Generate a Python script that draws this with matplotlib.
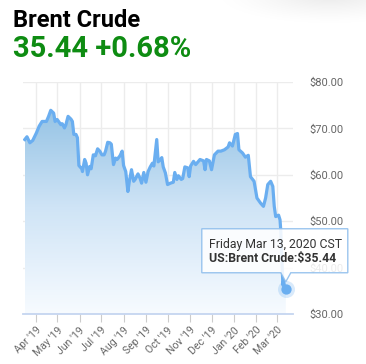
import matplotlib
matplotlib.use('Agg')
import matplotlib.pyplot as plt
import matplotlib.dates as mdates
import matplotlib.transforms as mtransforms
from matplotlib.colors import LinearSegmentedColormap
from matplotlib.patches import Polygon
import numpy as np
import pandas as pd

plt.rcParams['font.family'] = ['Roboto', 'DejaVu Sans']

# Brent crude closing prices
dates = [
    '2019-03-17', '2019-03-20', '2019-03-24', '2019-03-28', '2019-04-02', '2019-04-06',
    '2019-04-10', '2019-04-16', '2019-04-19', '2019-04-22', '2019-04-26', '2019-04-28',
    '2019-05-01', '2019-05-06', '2019-05-08', '2019-05-11', '2019-05-13', '2019-05-16',
    '2019-05-20', '2019-05-22', '2019-05-24', '2019-05-27', '2019-05-29', '2019-05-31',
    '2019-06-04', '2019-06-05', '2019-06-08', '2019-06-10', '2019-06-12', '2019-06-15',
    '2019-06-17', '2019-06-20', '2019-06-23', '2019-06-26', '2019-06-29', '2019-07-02',
    '2019-07-05', '2019-07-07', '2019-07-10', '2019-07-13', '2019-07-15', '2019-07-18',
    '2019-07-21', '2019-07-23', '2019-07-27', '2019-07-30', '2019-08-01', '2019-08-04',
    '2019-08-07', '2019-08-09', '2019-08-12', '2019-08-15', '2019-08-17', '2019-08-21',
    '2019-08-24', '2019-08-26', '2019-08-29', '2019-09-01', '2019-09-04', '2019-09-07',
    '2019-09-10', '2019-09-12', '2019-09-16', '2019-09-18', '2019-09-21', '2019-09-23',
    '2019-09-25', '2019-09-28', '2019-10-01', '2019-10-05', '2019-10-09', '2019-10-11',
    '2019-10-14', '2019-10-16', '2019-10-20', '2019-10-22', '2019-10-25', '2019-10-29',
    '2019-10-31', '2019-11-02', '2019-11-06', '2019-11-09', '2019-11-15', '2019-11-20',
    '2019-11-22', '2019-11-24', '2019-11-28', '2019-12-01', '2019-12-05', '2019-12-10',
    '2019-12-14', '2019-12-19', '2019-12-24', '2019-12-26', '2019-12-30', '2020-01-03',
    '2020-01-06', '2020-01-08', '2020-01-13', '2020-01-17', '2020-01-21', '2020-01-24',
    '2020-01-29', '2020-02-02', '2020-02-07', '2020-02-11', '2020-02-14', '2020-02-17',
    '2020-02-21', '2020-02-24', '2020-02-26', '2020-02-28', '2020-03-03', '2020-03-05',
    '2020-03-06', '2020-03-09', '2020-03-10', '2020-03-11', '2020-03-12', '2020-03-13',
]
prices = [
    67.6, 68.2, 66.9, 67.4, 69.0, 70.5,
    71.5, 71.5, 72.6, 73.9, 73.3, 71.5,
    71.9, 70.8, 71.0, 70.1, 70.8, 72.6,
    72.0, 71.5, 68.7, 68.7, 68.0, 62.0,
    61.3, 60.7, 63.3, 62.5, 60.0, 61.8,
    61.3, 64.3, 64.1, 65.6, 65.1, 64.3,
    64.3, 65.1, 67.0, 66.9, 66.6, 62.2,
    63.6, 63.3, 64.1, 65.1, 62.0, 60.7,
    56.4, 58.6, 61.1, 58.6, 59.0, 60.2,
    59.2, 58.2, 60.5, 58.4, 60.7, 61.7,
    62.5, 61.9, 67.6, 62.8, 63.3, 63.7,
    61.7, 60.4, 57.9, 58.2, 58.4, 60.5,
    59.0, 59.8, 59.0, 59.2, 61.7, 61.5,
    59.6, 61.9, 62.9, 62.2, 63.3, 63.0,
    61.1, 63.3, 63.0, 61.1, 64.3, 65.1,
    65.1, 65.4, 66.0, 66.9, 66.2, 68.7,
    68.9, 65.4, 64.7, 63.8, 64.2, 59.6,
    58.6, 55.0, 53.9, 53.2, 55.0, 57.9,
    58.6, 57.5, 53.2, 51.0, 51.3, 50.3,
    48.1, 36.2, 37.2, 36.0, 35.2, 35.44,
]
month_ticks = ['2019-04-01', '2019-05-01', '2019-06-01', '2019-07-01', '2019-08-01',
               '2019-09-01', '2019-10-01', '2019-11-01', '2019-12-01', '2020-01-01',
               '2020-02-01', '2020-03-01']
month_labels = ["Apr '19", "May '19", "Jun '19", "Jul '19", "Aug '19", "Sep '19",
                "Oct '19", "Nov '19", "Dec '19", "Jan '20", "Feb '20", "Mar '20"]
price_ticks = [30, 40, 50, 60, 70, 80]

x = mdates.date2num(pd.to_datetime(dates))
y = np.array(prices)
xt = mdates.date2num(pd.to_datetime(month_ticks))

fig = plt.figure(figsize=(3.66, 3.64), dpi=100)

# faint drop shadow in the top right corner
bg = fig.add_axes([0, 0, 1, 1], zorder=-5)
bg.axis('off')
gx, gy = np.meshgrid(np.linspace(0, 366, 366), np.linspace(0, 364, 364))
shade = np.clip(1 - np.hypot((gx - 330) / 110, (gy + 5) / 28), 0, 1) ** 1.3
bg.imshow(shade, extent=[0, 366, 364, 0], cmap=LinearSegmentedColormap.from_list(
    'sh', ['#ffffff', '#eaeaea']), vmin=0, vmax=1, aspect='auto')

ax = fig.add_axes([23 / 366, 50 / 364, 270 / 366, 232 / 364])
ax.patch.set_alpha(0)

x0 = x[0] - 0.5
x1 = x[-1] + 10
ax.set_xlim(x0 - 2, x1)
ax.set_ylim(30, 80)

# gradient area under the line
cmap = LinearSegmentedColormap.from_list('fade', ['#f7fbff', '#cfe4f6', '#8fc0e3'])
grad = np.linspace(0, 1, 256).reshape(-1, 1)
area = ax.fill_between(x, y, 30, color='none', lw=0)
im = ax.imshow(grad, extent=[x[0], x[-1], 30, 76], origin='lower', aspect='auto',
               cmap=cmap, zorder=1)
im.set_clip_path(area.get_paths()[0], ax.transData)

ax.plot(x, y, color='#6aaef0', lw=2.3, solid_joinstyle='round', zorder=3)

# grid
for v in price_ticks[1:]:
    ax.axhline(v, color='#ececec', lw=1, zorder=0)
for v in xt:
    ax.axvline(v, color='#ececec', lw=1, zorder=0)

for s in ['top', 'left', 'right']:
    ax.spines[s].set_visible(False)
ax.spines['bottom'].set_color('#c5d5f0')
ax.spines['bottom'].set_linewidth(1.3)

ax.set_xticks(xt)
ax.set_xticklabels(month_labels, rotation=45, ha='right', rotation_mode='anchor',
                   fontsize=7.6, color='#666666')
ax.tick_params(axis='x', length=6, color='#cccccc', pad=2)

ax.yaxis.tick_right()
ax.set_yticks(price_ticks)
ax.set_yticklabels(['$%.2f' % v for v in price_ticks], fontsize=8, color='#666666')
ax.tick_params(axis='y', length=0, pad=12)

# last point marker + tooltip
lx, ly = x[-1], y[-1]
ax.scatter([lx], [ly], s=150, color='#6aaef0', alpha=0.25, lw=0, zorder=5, clip_on=False)
ax.scatter([lx], [ly], s=55, color='#6aaef0', lw=0, zorder=6, clip_on=False)

tr = mtransforms.IdentityTransform() + mtransforms.ScaledTranslation(lx, ly, ax.transData)
tip = Polygon([(-84, 16), (-5, 16), (0, 7), (5, 16), (62, 16), (62, 60), (-84, 60)],
              closed=True, transform=tr, facecolor='white', edgecolor='#8dbdec',
              lw=1.0, alpha=0.88, zorder=7, clip_on=False)
ax.add_patch(tip)
ax.text(-77, 41, 'Friday Mar 13, 2020 CST', transform=tr, fontsize=8.8, color='#333333',
        va='baseline', ha='left', zorder=8)
ax.text(-77, 27, 'US:Brent Crude:$%.2f' % ly, transform=tr, fontsize=8.8, color='#333333',
        fontweight='bold', va='baseline', ha='left', zorder=8)

# header
fig.text(13 / 366, 1 - 27 / 364, 'Brent Crude', fontsize=17, fontweight='bold',
         color='black', va='baseline')
fig.text(13 / 366, 1 - 57 / 364, '35.44 +0.68%', fontsize=21, fontweight='bold',
         color='#0e8c12', va='baseline')

fig.savefig('out.png', dpi=100)
